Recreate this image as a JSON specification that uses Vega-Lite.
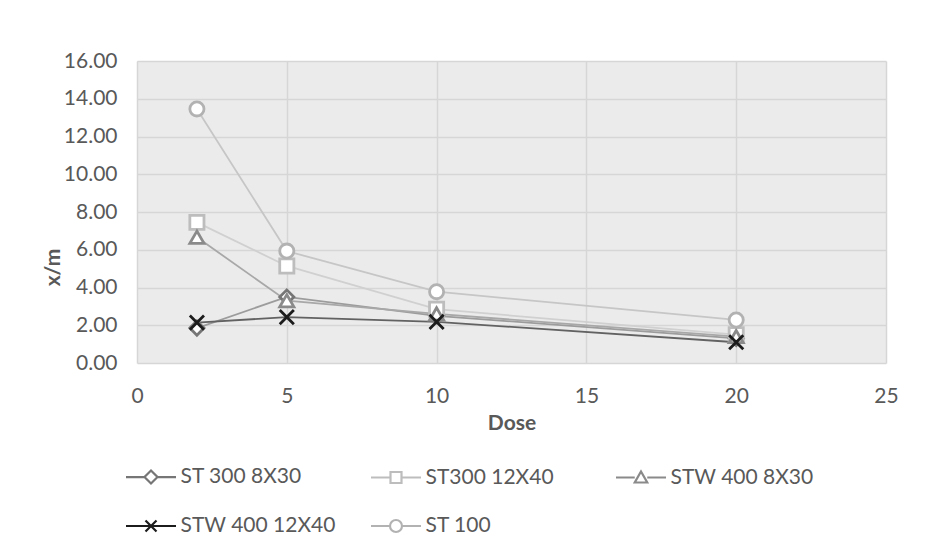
{
  "$schema": "https://vega.github.io/schema/vega-lite/v6.json",
  "width": 749,
  "height": 302,
  "autosize": {"type": "none"},
  "padding": {"left": 137, "top": 61, "right": 62, "bottom": 193},
  "background": "white",
  "config": {
    "font": "Lato",
    "view": {"fill": "#ebebeb", "stroke": null},
    "axis": {
      "labelFont": "Lato", "labelFontSize": 21, "labelColor": "#595959",
      "titleFont": "Lato", "titleFontSize": 21, "titleColor": "#595959", "titleFontWeight": "bold",
      "gridColor": "#d6d6d6", "gridWidth": 1.5, "domain": false, "ticks": false, "labelFlush": false
    }
  },
  "data": {
    "values": [
      {"series": "ST 300 8X30", "dose": 2, "xm": 1.85},
      {"series": "ST 300 8X30", "dose": 5, "xm": 3.5},
      {"series": "ST 300 8X30", "dose": 10, "xm": 2.5},
      {"series": "ST 300 8X30", "dose": 20, "xm": 1.3},
      {"series": "ST300 12X40", "dose": 2, "xm": 7.45},
      {"series": "ST300 12X40", "dose": 5, "xm": 5.14},
      {"series": "ST300 12X40", "dose": 10, "xm": 2.85},
      {"series": "ST300 12X40", "dose": 20, "xm": 1.5},
      {"series": "STW 400 8X30", "dose": 2, "xm": 6.66},
      {"series": "STW 400 8X30", "dose": 5, "xm": 3.3},
      {"series": "STW 400 8X30", "dose": 10, "xm": 2.6},
      {"series": "STW 400 8X30", "dose": 20, "xm": 1.4},
      {"series": "STW 400 12X40", "dose": 2, "xm": 2.14},
      {"series": "STW 400 12X40", "dose": 5, "xm": 2.43},
      {"series": "STW 400 12X40", "dose": 10, "xm": 2.18},
      {"series": "STW 400 12X40", "dose": 20, "xm": 1.1},
      {"series": "ST 100", "dose": 2, "xm": 13.46},
      {"series": "ST 100", "dose": 5, "xm": 5.93},
      {"series": "ST 100", "dose": 10, "xm": 3.78},
      {"series": "ST 100", "dose": 20, "xm": 2.28}
    ]
  },
  "encoding": {
    "x": {
      "field": "dose", "type": "quantitative",
      "scale": {"domain": [0, 25], "nice": false},
      "axis": {"values": [0, 5, 10, 15, 20, 25], "title": "Dose", "labelPadding": 22, "titlePadding": 6}
    },
    "y": {
      "field": "xm", "type": "quantitative",
      "scale": {"domain": [0, 16], "nice": false},
      "axis": {"values": [0, 2, 4, 6, 8, 10, 12, 14, 16], "format": ".2f", "title": "x/m", "labelPadding": 20,
               "titleX": -78, "titleY": 206, "titleAlign": "center", "titleBaseline": "alphabetic", "titleAngle": -90}
    }
  },
  "resolve": {"scale": {"stroke": "independent", "shape": "independent"}},
  "layer": [
    {
      "mark": {"type": "line", "strokeWidth": 1.8},
      "encoding": {
        "stroke": {
          "field": "series", "type": "nominal",
          "scale": {
            "domain": ["ST 300 8X30", "ST300 12X40", "STW 400 8X30", "STW 400 12X40", "ST 100"],
            "range": ["#9c9c9c", "#d0d0d0", "#a8a8a8", "#626262", "#c6c6c6"]
          },
          "legend": null
        }
      }
    },
    {
      "mark": {"type": "point", "filled": false, "fill": "white", "fillOpacity": 1, "strokeWidth": 2.8, "size": 200, "opacity": 1},
      "encoding": {
        "stroke": {
          "field": "series", "type": "nominal",
          "scale": {
            "domain": ["ST 300 8X30", "ST300 12X40", "STW 400 8X30", "STW 400 12X40", "ST 100"],
            "range": ["#767676", "#bdbdbd", "#8a8a8a", "#1c1c1c", "#b2b2b2"]
          },
          "legend": null
        },
        "shape": {
          "field": "series", "type": "nominal",
          "scale": {
            "domain": ["ST 300 8X30", "ST300 12X40", "STW 400 8X30", "STW 400 12X40", "ST 100"],
            "range": ["diamond", "square", "triangle-up", "M-1,-1L1,1M-1,1L1,-1", "circle"]
          },
          "legend": null
        }
      }
    },
    {
      "mark": {"type": "point", "filled": false, "size": 0, "strokeWidth": 0, "opacity": 0},
      "encoding": {
        "stroke": {
          "field": "series", "type": "nominal",
          "scale": {
            "domain": ["ST 300 8X30", "ST300 12X40", "STW 400 8X30", "STW 400 12X40", "ST 100"],
            "range": ["#767676", "#bdbdbd", "#8a8a8a", "#1c1c1c", "#b2b2b2"]
          },
          "legend": {
            "title": null, "orient": "bottom", "offset": 30, "columns": 3, "gridAlign": "all",
            "symbolSize": 625, "symbolStrokeWidth": 2.2,
            "labelFont": "Lato", "labelFontSize": 21, "labelColor": "#595959", "labelOffset": 15.5,
            "columnPadding": 30, "rowPadding": 24, "labelLimit": 300,
            "encode": {
              "symbols": {
                "update": {
                  "fill": {"value": "white"},
                  "fillOpacity": {"value": 1},
                  "strokeOpacity": {"value": 1},
                  "opacity": {"value": 1},
                  "strokeWidth": {"value": 2.2}
                }
              }
            }
          }
        },
        "shape": {
          "field": "series", "type": "nominal",
          "scale": {
            "domain": ["ST 300 8X30", "ST300 12X40", "STW 400 8X30", "STW 400 12X40", "ST 100"],
            "range": [
              "M-2,0H-0.52M0.52,0H2M0,-0.52L0.52,0L0,0.52L-0.52,0Z",
              "M-2,0H-0.44M0.44,0H2M-0.44,-0.44H0.44V0.44H-0.44Z",
              "M-2,0H-0.5M0.5,0H2M0,-0.48L0.5,0.4H-0.5Z",
              "M-2,0H2M-0.44,-0.44L0.44,0.44M-0.44,0.44L0.44,-0.44",
              "M-2,0H-0.48M0.48,0H2M-0.48,0A0.48,0.48,0,1,0,0.48,0A0.48,0.48,0,1,0,-0.48,0Z"
            ]
          }
        }
      }
    }
  ]
}
